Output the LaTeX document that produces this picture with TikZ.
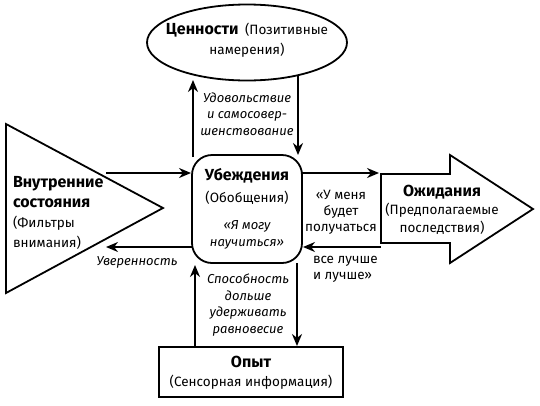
\documentclass[tikz,border=0pt]{standalone}
\usepackage{fontspec}
\setmainfont{Fira Sans}
\usetikzlibrary{arrows.meta,shapes.geometric}
\newcommand\ttl[1]{{\bfseries\fontsize{16}{\the\baselineskip}\selectfont #1}}
\begin{document}
\begin{tikzpicture}[x=1pt,y=-1pt,
  every node/.style={inner sep=0pt, outer sep=0pt},
  shp/.style={draw, line width=1.8pt},
  con/.style={line width=1.8pt, -{Stealth[length=12pt,width=10pt]}},
  main/.style={font=\fontsize{13.5}{20}\selectfont, align=center},
  lab/.style={font=\itshape\fontsize{13}{16.5}\selectfont, align=center},
  plab/.style={font=\fontsize{13.5}{16}\selectfont},
]
\useasboundingbox (0,0) rectangle (540,405);

% shapes
\node[shp, ellipse, minimum width=200pt, minimum height=76pt] (val) at (247,42.5) {};
\node[shp, rounded corners=20pt, minimum width=110pt, minimum height=108pt] (bel) at (247,209) {};
\node[shp, minimum width=184pt, minimum height=50pt] (expr) at (251,372) {};

\coordinate (t1) at (6,124);
\coordinate (t2) at (163,208);
\coordinate (t3) at (6,293);
\draw[shp, line join=miter] (t1) -- (t2) -- (t3) -- cycle;

\coordinate (e1) at (381,174);
\coordinate (e2) at (450,174);
\coordinate (e3) at (450,155);
\coordinate (e4) at (533,209);
\coordinate (e5) at (450,263);
\coordinate (e6) at (450,243);
\coordinate (e7) at (381,243);
\draw[shp, line join=miter] (e1) -- (e2) -- (e3) -- (e4) -- (e5) -- (e6) -- (e7) -- cycle;

% texts in shapes
\node[main] (valtxt) at (247,40) {\ttl{Ценности}\hspace{3pt} (Позитивные\\намерения)};
\node[main, font=\fontsize{13.5}{22}\selectfont] (beltitle) at (247,186) {\ttl{Убеждения}\\(Обобщения)};
\node[lab] (belquote) at (247,235) {«Я могу\\научиться»};
\node[main, align=left, anchor=west] (tritxt) at (13,212.5) {\ttl{Внутренние}\\\ttl{состояния}\\(Фильтры\\внимания)};
\node[main, font=\fontsize{13.5}{18}\selectfont] (exptxt) at (442,210) {\ttl{Ожидания}\\(Предполагаемые\\последствия)};
\node[main, font=\fontsize{13.5}{19}\selectfont] (exprtxt) at (251,372.5) {\ttl{Опыт}\\(Сенсорная информация)};

% connector end points
\coordinate (c1s) at (193,157);
\coordinate (c1e) at (193,80);
\coordinate (c2s) at (298,75);
\coordinate (c2e) at (298,155);
\coordinate (c3s) at (106,173);
\coordinate (c3e) at (191,173);
\coordinate (c4s) at (192,247);
\coordinate (c4e) at (106,247);
\coordinate (c5s) at (302,173);
\coordinate (c5e) at (379,173);
\coordinate (c6s) at (381,247);
\coordinate (c6e) at (303,247);
\coordinate (c7s) at (297,263);
\coordinate (c7e) at (297,346);
\coordinate (c8s) at (195,347);
\coordinate (c8e) at (195,265);

\draw[con] (c1s) -- (c1e);
\draw[con] (c2s) -- (c2e);
\draw[con] (c3s) -- (c3e);
\draw[con] (c4s) -- (c4e);
\draw[con] (c5s) -- (c5e);
\draw[con] (c6s) -- (c6e);
\draw[con] (c7s) -- (c7e);
\draw[con] (c8s) -- (c8e);

% labels
\node[lab] (l1) at (247,114) {Удовольствие\\и самосовер-\\шенствование};
\node[lab] (l2) at (137,262) {Уверенность};
\node[plab, align=center] (l3) at (341,212) {«У меня\\будет\\получаться};
\node[plab, align=left, anchor=west] (l4) at (313,269.5) {все лучше\\и лучше»};
\node[lab] (l5) at (248,305) {Способность\\дольше\\удерживать\\равновесие};
\end{tikzpicture}
\end{document}
